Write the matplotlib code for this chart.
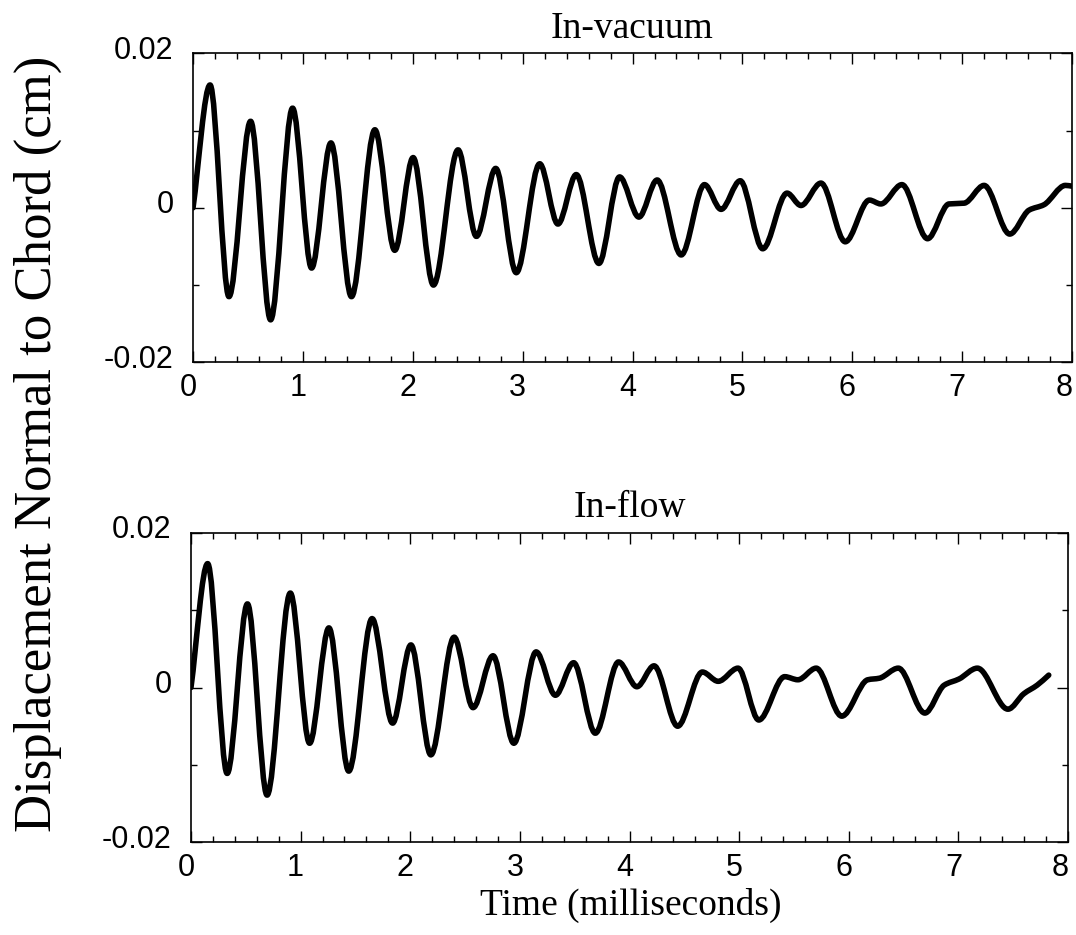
import numpy as np
import matplotlib
matplotlib.use("Agg")
import matplotlib.pyplot as plt
from matplotlib.path import Path
from matplotlib.patches import PathPatch
from matplotlib.transforms import ScaledTranslation

plt.rcParams['axes.unicode_minus'] = False

# extrema / shoulder points (time in ms, displacement in cm)
vac_t = [0.0, 0.155, 0.327, 0.524, 0.706, 0.906, 1.079, 1.255, 1.442, 1.655,
         1.836, 2.003, 2.188, 2.412, 2.579, 2.755, 2.942, 3.155, 3.321, 3.488,
         3.694, 3.882, 4.058, 4.224, 4.443, 4.655, 4.806, 4.98, 5.185, 5.406,
         5.533, 5.715, 5.936, 6.155, 6.26, 6.452, 6.685, 6.88, 7.018, 7.2,
         7.433, 7.609, 7.745, 7.94, 8.0]
vac_y = [0.0, 0.0159, -0.0115, 0.0112, -0.0145, 0.0129, -0.0078, 0.0084, -0.0115, 0.0101,
         -0.0055, 0.0065, -0.0100, 0.0075, -0.0037, 0.0051, -0.0084, 0.0057, -0.0021, 0.0043,
         -0.0072, 0.0040, -0.0012, 0.0036, -0.0061, 0.0030, -0.0002, 0.0035, -0.0053, 0.0019,
         0.0003, 0.0032, -0.0044, 0.0010, 0.0005, 0.0030, -0.0040, 0.0005, 0.0006, 0.0029,
         -0.0034, -0.0003, 0.0004, 0.0029, 0.0028]

flow_t = [0.0, 0.152, 0.33, 0.515, 0.694, 0.906, 1.082, 1.258, 1.439, 1.652,
          1.839, 2.006, 2.188, 2.4, 2.573, 2.755, 2.945, 3.148, 3.324, 3.49,
          3.688, 3.9, 4.067, 4.224, 4.439, 4.664, 4.809, 4.99, 5.179, 5.415,
          5.536, 5.703, 5.936, 6.173, 6.279, 6.452, 6.694, 6.87, 7.006, 7.173,
          7.452, 7.597, 7.718, 7.824]
flow_y = [0.0, 0.0160, -0.0111, 0.0108, -0.0139, 0.0122, -0.0072, 0.0077, -0.0108, 0.0089,
          -0.0046, 0.0055, -0.0087, 0.0065, -0.0026, 0.0041, -0.0072, 0.0046, -0.0010, 0.0032,
          -0.0059, 0.0033, 0.0001, 0.0028, -0.0050, 0.0020, 0.0008, 0.0025, -0.0042, 0.0014,
          0.0010, 0.0025, -0.0037, 0.0010, 0.0012, 0.0025, -0.0033, 0.0003, 0.0011, 0.0025,
          -0.0028, -0.0008, 0.0003, 0.0016]

x_ticks = [0, 1, 2, 3, 4, 5, 6, 7, 8]
y_ticks = [-0.02, 0, 0.02]
y_tick_labels = ['-0.02', '0', '0.02']

SERIF = 'Liberation Serif'
SANS = 'Liberation Sans'


def trace_path(t, y):
    # smooth bezier through the read points, flat tangent at local extrema
    t = np.asarray(t, float)
    y = np.asarray(y, float)
    d = np.diff(y) / np.diff(t)
    m = np.zeros_like(y)
    m[0], m[-1] = d[0], d[-1]
    for i in range(1, len(y) - 1):
        if d[i - 1] * d[i] > 0:
            m[i] = 2.0 / (1.0 / d[i - 1] + 1.0 / d[i])
    verts = [(t[0], y[0])]
    codes = [Path.MOVETO]
    for i in range(len(t) - 1):
        h = t[i + 1] - t[i]
        verts += [(t[i] + h / 3, y[i] + m[i] * h / 3),
                  (t[i + 1] - h / 3, y[i + 1] - m[i + 1] * h / 3),
                  (t[i + 1], y[i + 1])]
        codes += [Path.CURVE4] * 3
    return Path(verts, codes)


def setup(ax, title):
    ax.set_xlim(0, 8)
    ax.set_ylim(-0.02, 0.02)
    ax.set_xticks(x_ticks)
    ax.set_xticks(np.arange(0, 8.01, 0.2), minor=True)
    ax.set_yticks(y_ticks)
    ax.set_yticklabels(y_tick_labels)
    ax.set_yticks([-0.01, 0.01], minor=True)
    ax.tick_params(which='both', direction='in', top=True, right=True,
                   width=1.0, labelsize=22)
    ax.tick_params(which='major', length=8)
    ax.tick_params(which='minor', length=4.5)
    ax.tick_params(axis='x', pad=8)
    ax.tick_params(axis='y', pad=14)
    # labels in the original sit a little left / above their ticks
    for i, lab in enumerate(ax.get_xticklabels()):
        lab.set_family(SANS)
        dx = -8 if i == len(x_ticks) - 1 else -5
        lab.set_transform(lab.get_transform() + ScaledTranslation(dx / 100, 0, fig.dpi_scale_trans))
    for lab in ax.get_yticklabels():
        lab.set_family(SANS)
        lab.set_transform(lab.get_transform() + ScaledTranslation(0, 6 / 100, fig.dpi_scale_trans))
    for s in ax.spines.values():
        s.set_linewidth(1.2)
    ax.set_title(title, family=SERIF, fontsize=27, pad=11)


fig = plt.figure(figsize=(10.76, 9.35), dpi=100)
ax1 = fig.add_axes([0.1794, 0.6125, 0.8169, 0.3305])
ax2 = fig.add_axes([0.1775, 0.0991, 0.8151, 0.3312])

ax1.add_patch(PathPatch(trace_path(vac_t, vac_y), fill=False, lw=4,
                        edgecolor='black', joinstyle='round', capstyle='round'))
ax2.add_patch(PathPatch(trace_path(flow_t, flow_y), fill=False, lw=4,
                        edgecolor='black', joinstyle='round', capstyle='round'))

setup(ax1, 'In-vacuum')
setup(ax2, 'In-flow')

fig.text(0.5864, 1 - 905 / 935, 'Time (milliseconds)', family=SERIF,
         fontsize=27, ha='center', va='center')
fig.text(0.035, 1 - 444 / 935, 'Displacement Normal to Chord (cm)', family=SERIF,
         fontsize=38, rotation=90, ha='center', va='center')

fig.savefig('out.png', dpi=100)
